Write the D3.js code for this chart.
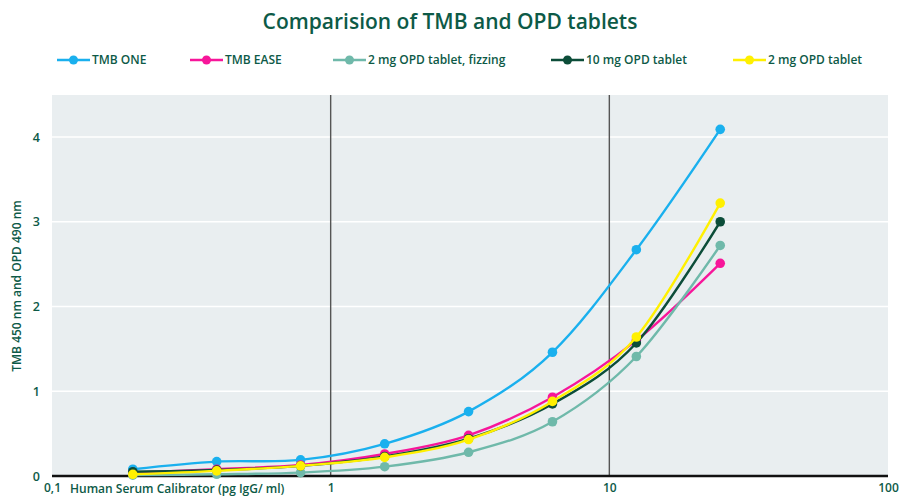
<!DOCTYPE html>
<html><head><meta charset="utf-8">
<script src="https://cdn.jsdelivr.net/npm/d3@7"></script>
<style>body{margin:0;background:#fff}svg{display:block}text{font-family:"Open Sans",Lato,sans-serif}</style>
</head><body><svg id="c" width="900" height="497"></svg>
<script>
const concentrations = [0.195, 0.39, 0.78, 1.5625, 3.125, 6.25, 12.5, 25];
const seriesNames = ["TMB ONE", "TMB EASE", "2 mg OPD tablet, fizzing", "10 mg OPD tablet", "2 mg OPD tablet"];
const tmbOne   = [0.08, 0.17, 0.19, 0.38, 0.76, 1.46, 2.67, 4.09];
const tmbEase  = [0.04, 0.08, 0.13, 0.26, 0.48, 0.93, 1.60, 2.51];
const opd2Fizz = [0.01, 0.02, 0.04, 0.11, 0.28, 0.64, 1.41, 2.72];
const opd10    = [0.05, 0.07, 0.12, 0.23, 0.44, 0.85, 1.57, 3.00];
const opd2     = [0.02, 0.06, 0.12, 0.22, 0.43, 0.88, 1.64, 3.22];
const yTicks = [0, 1, 2, 3, 4];
const xTicks = [0.1, 1, 10, 100];
const xTickLabels = ["0,1", "1", "10", "100"];
const colors = ["#1ab0ee", "#f7169a", "#6fb9aa", "#0c4d39", "#fff000"];
const seriesValues = [tmbOne, tmbEase, opd2Fizz, opd10, opd2];
const textColor = "#0d5a47";

const svg = d3.select("#c");
const L = 52, R = 888, T = 95, B = 476;
const x = d3.scaleLog().domain([0.1, 100]).range([L, R]);
const y = d3.scaleLinear().domain([0, 4]).range([B, B - 4 * 84.75]);

svg.append("rect").attr("x", L).attr("y", T).attr("width", R - L).attr("height", B - T).attr("fill", "#e9eef0");

svg.append("g").selectAll("line").data(yTicks.filter(d => d > 0)).join("line")
  .attr("x1", L).attr("x2", R).attr("y1", d => y(d)).attr("y2", d => y(d))
  .attr("stroke", "#fff").attr("stroke-width", 1.6);

svg.append("g").selectAll("line").data([1, 10]).join("line")
  .attr("x1", d => x(d)).attr("x2", d => x(d)).attr("y1", T).attr("y2", B)
  .attr("stroke", "#555").attr("stroke-width", 1.4);

const yAxis = d3.axisLeft(y).tickValues(yTicks).tickSize(0).tickPadding(0).tickFormat(d3.format("d"));
const gy = svg.append("g").attr("transform", `translate(${L - 12},0)`).call(yAxis);
gy.select(".domain").remove();
gy.selectAll("text").attr("fill", textColor).attr("font-size", 12.5).attr("font-weight", 600)
  .attr("font-family", "'Open Sans', sans-serif");

const xAxis = d3.axisBottom(x).tickValues(xTicks).tickSize(0).tickPadding(0).tickFormat((d, i) => xTickLabels[i]);
const gx = svg.append("g").attr("transform", `translate(0,${B + 7})`).call(xAxis);
gx.select(".domain").remove();
gx.selectAll("text").attr("fill", textColor).attr("font-size", 12).attr("font-weight", 600)
  .attr("font-family", "'Open Sans', sans-serif");

svg.append("line").attr("x1", L).attr("x2", R).attr("y1", B).attr("y2", B)
  .attr("stroke", "#111").attr("stroke-width", 2.4);

svg.append("text").attr("x", 70).attr("y", 492.5).attr("fill", textColor).attr("font-size", 12).attr("font-weight", 600)
  .text("Human Serum Calibrator (pg IgG/ ml)");
svg.append("text").attr("transform", "translate(21,286) rotate(-90)").attr("text-anchor", "middle")
  .attr("fill", textColor).attr("font-size", 12).attr("font-weight", 600).text("TMB 450 nm and OPD 490 nm");

svg.append("text").attr("x", 450).attr("y", 29).attr("text-anchor", "middle").attr("fill", textColor)
  .attr("font-size", 21).attr("font-weight", 600).text("Comparision of TMB and OPD tablets");

const line = d3.line().x((d, i) => x(concentrations[i])).y(d => y(d)).curve(d3.curveCatmullRom.alpha(0));
seriesValues.forEach((vals, s) => {
  const g = svg.append("g");
  g.append("path").datum(vals).attr("d", line).attr("fill", "none").attr("stroke", colors[s]).attr("stroke-width", 2.4);
  g.selectAll("circle").data(vals).join("circle")
    .attr("cx", (d, i) => x(concentrations[i])).attr("cy", d => y(d)).attr("r", 4.8).attr("fill", colors[s]);
});

const legendX = [57, 190, 333, 551, 733];
const lg = svg.append("g");
seriesNames.forEach((n, s) => {
  const gx0 = legendX[s];
  lg.append("line").attr("x1", gx0).attr("x2", gx0 + 33).attr("y1", 60).attr("y2", 60).attr("stroke", colors[s]).attr("stroke-width", 2.4);
  lg.append("circle").attr("cx", gx0 + 16.5).attr("cy", 60).attr("r", 4.5).attr("fill", colors[s]);
  lg.append("text").attr("x", gx0 + 35).attr("y", 64).attr("fill", textColor).attr("font-size", 12).attr("font-weight", 600).text(n);
});
</script></body></html>
